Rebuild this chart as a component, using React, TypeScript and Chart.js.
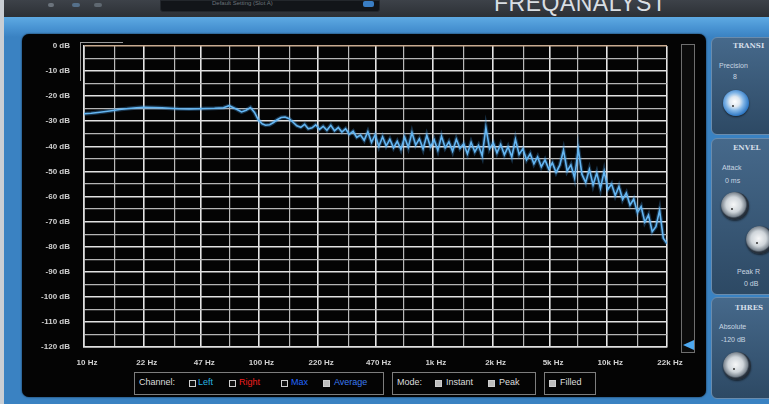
import React, { useEffect, useRef } from "react";
import { Chart, registerables } from "chart.js";
Chart.register(...registerables);

// ---- data ----
const freqHz = [
  10, 11, 12, 13, 14, 15, 16, 18, 20, 22, 25, 28, 31, 35, 40, 45, 50, 56, 63, 68,
  75, 80, 85, 90, 95, 100, 105, 110, 116, 122, 128, 135, 142, 150, 158, 166, 175, 184, 193, 203,
  213, 224, 235, 247, 260, 273, 287, 301, 316, 332, 349, 366, 385, 404, 424, 445, 467, 490, 515, 540,
  567, 595, 625, 656, 689, 723, 759, 797, 837, 879, 923, 969, 1017, 1068, 1121, 1177, 1236, 1298, 1363, 1431,
  1503, 1578, 1657, 1740, 1827, 1918, 2014, 2115, 2220, 2331, 2448, 2570, 2699, 2834, 2975, 3124, 3280, 3444, 3617, 3797,
  3987, 4187, 4396, 4616, 4847, 5089, 5343, 5611, 5891, 6186, 6495, 6820, 7161, 7519, 7895, 8290, 8704, 9140, 9597, 10076,
  10580, 11109, 11665, 12248, 12860, 13503, 14179, 14888, 15632, 16414, 17234, 18096, 19001, 19951, 20948, 22000,
];
const levelDb = [
  -27.0, -26.8, -26.5, -26.2, -25.9, -25.6, -25.3, -24.9, -24.6, -24.4, -24.5, -24.6, -24.8, -25.0, -25.1, -25.0, -24.9, -24.8, -24.6, -23.8,
  -25.2, -26.3, -25.6, -24.5, -26.5, -29.5, -31.0, -31.6, -31.4, -30.5, -29.4, -28.5, -28.3, -29.0, -30.4, -31.8, -32.4, -31.2, -33.0, -32.6,
  -31.4, -33.2, -32.0, -33.6, -31.6, -33.8, -32.5, -34.3, -33.0, -35.2, -34.0, -36.4, -35.5, -37.6, -34.2, -38.4, -35.4, -40.0, -36.2, -39.8,
  -37.2, -40.6, -38.0, -41.2, -36.4, -40.4, -34.5, -39.5, -37.0, -41.0, -35.6, -40.2, -37.4, -41.6, -36.0, -40.6, -38.2, -42.0, -37.2, -40.8,
  -39.0, -43.0, -38.4, -42.2, -39.6, -43.8, -32.5, -41.0, -38.6, -42.6, -39.2, -43.4, -40.2, -44.2, -37.2, -43.2, -41.0, -45.4, -43.0, -47.0,
  -44.2, -48.2, -45.4, -49.0, -46.6, -50.4, -47.5, -41.5, -49.8, -47.4, -52.6, -41.0, -51.2, -54.4, -49.2, -55.4, -50.6, -56.8, -50.0, -57.2,
  -55.0, -59.6, -56.0, -61.2, -58.6, -63.4, -61.0, -66.4, -64.0, -70.2, -67.4, -74.0, -72.0, -65.5, -76.6, -78.8,
];
const gridHz = [10, 15, 22, 33, 47, 68, 100, 150, 220, 330, 470, 680, 1000, 1500, 2200, 3300, 4700, 6800, 10000, 15000, 22000];
const labeledHz = [10, 22, 47, 100, 220, 470, 1000, 2200, 4700, 10000, 22000];
const hzLabels = ["10 Hz", "22 Hz", "47 Hz", "100 Hz", "220 Hz", "470 Hz", "1k Hz", "2k Hz", "5k Hz", "10k Hz", "22k Hz"];
const dbMin = -120;
const dbMax = 0;
const dbStep = 5;

const FONT = '"Liberation Sans", Arial, sans-serif';

function Knob({ cx, cy, r, blue }: { cx: number; cy: number; r: number; blue?: boolean }) {
  const bg = blue
    ? "radial-gradient(circle at 45% 45%, #ffffff 0%, #dfe8f0 25%, #7fb4e6 45%, #2f78c4 70%, #143a66 90%, #0b1e36 100%)"
    : "radial-gradient(circle at 45% 45%, #f6f7f8 0%, #cfd5da 35%, #7d8791 55%, #2a3440 62%, #121a24 85%, #2b3b4c 100%)";
  return (
    <div style={{ position: "absolute", left: cx - r, top: cy - r, width: 2 * r, height: 2 * r, borderRadius: "50%", background: bg, boxShadow: "0 1px 2px rgba(0,0,0,0.6)" }}>
      <div style={{ position: "absolute", left: r - 4, top: r + 2, width: 2, height: 2, borderRadius: 1, background: "#333" }} />
    </div>
  );
}

function Txt({ x, y, children, color = "#cdd8e3", size = 8, weight = "normal", family = FONT }: any) {
  return (
    <div style={{ position: "absolute", left: x, top: y, color, fontSize: size, fontWeight: weight, fontFamily: family, lineHeight: `${size + 2}px`, whiteSpace: "nowrap" }}>
      {children}
    </div>
  );
}

function Box({ x, y, filled }: { x: number; y: number; filled: boolean }) {
  return (
    <div style={{ position: "absolute", left: x, top: y, width: 5, height: 5, border: "1px solid #cfcfcf", background: filled ? "#bdbdbd" : "#111" }} />
  );
}

export default function App() {
  const ref = useRef<HTMLCanvasElement | null>(null);
  useEffect(() => {
    if (!ref.current) return;
    const pts = freqHz.map((f, i) => ({ x: f, y: levelDb[i] }));
    const chart = new Chart(ref.current, {
      type: "line",
      data: {
        datasets: [
          { data: pts, borderColor: "rgba(70,160,235,0.3)", borderWidth: 4, pointRadius: 0, tension: 0 },
          { data: pts, borderColor: "#72c0f5", borderWidth: 1.6, pointRadius: 0, tension: 0 },
        ],
      },
      options: {
        animation: false,
        responsive: false,
        events: [],
        layout: { padding: { top: 46, right: 102, bottom: 30, left: 0 } },
        plugins: { legend: { display: false }, tooltip: { enabled: false } },
        scales: {
          x: {
            type: "logarithmic",
            min: 10,
            max: 22000,
            afterBuildTicks: (s: any) => {
              s.ticks = gridHz.map((v) => ({ value: v }));
            },
            afterFit: (s: any) => {
              s.height = 27;
            },
            grid: {
              drawTicks: false,
              color: (ctx: any) => (labeledHz.includes(ctx.tick?.value) ? "#e6e6e6" : "#b9b9b9"),
              lineWidth: (ctx: any) => (labeledHz.includes(ctx.tick?.value) ? 1.6 : 1.2),
            },
            border: { display: true, color: "#e0e0e0", width: 1.5 },
            ticks: {
              autoSkip: false,
              maxRotation: 0,
              minRotation: 0,
              padding: 11,
              labelOffset: 3,
              color: "#d2d2d2",
              font: { family: FONT, size: 8, weight: "bold" },
              callback: (v: any) => {
                const i = labeledHz.indexOf(Number(v));
                return i >= 0 ? hzLabels[i] : "";
              },
            },
          },
          y: {
            min: dbMin,
            max: dbMax,
            afterFit: (s: any) => {
              s.width = 84;
            },
            grid: {
              drawTicks: false,
              color: (ctx: any) => {
                const v = ctx.tick?.value;
                if (v === 0) return "#c9ab90";
                return v % 10 === 0 ? "#e2e2e2" : "#b5b5b5";
              },
              lineWidth: (ctx: any) => (ctx.tick?.value % 10 === 0 ? 1.6 : 1.2),
            },
            border: { display: true, color: "#e0e0e0", width: 1.5 },
            ticks: {
              stepSize: dbStep,
              autoSkip: false,
              padding: 14,
              color: "#d2d2d2",
              font: { family: FONT, size: 8, weight: "bold" },
              callback: (v: any) => (Number(v) % 10 === 0 ? `${Number(v) === 0 ? 0 : v} dB` : ""),
            },
          },
        },
      } as any,
    });
    return () => chart.destroy();
  }, []);

  return (
    <div style={{ position: "fixed", left: 0, top: 0, width: 769, height: 404, overflow: "hidden", background: "#3a82c2", fontFamily: FONT }}>
      {/* left light edge */}
      <div style={{ position: "absolute", left: 0, top: 0, width: 4, height: 404, background: "#c9ced4" }} />
      {/* top strip */}
      <div style={{ position: "absolute", left: 4, top: 0, width: 765, height: 17, background: "linear-gradient(#3d4249, #2c3035)" }} />
      <div style={{ position: "absolute", left: 48, top: 3, width: 6, height: 4, background: "#6b737c", borderRadius: 2 }} />
      <div style={{ position: "absolute", left: 72, top: 3, width: 8, height: 4, background: "#55708a", borderRadius: 2 }} />
      <div style={{ position: "absolute", left: 94, top: 3, width: 8, height: 4, background: "#5f6871", borderRadius: 2 }} />
      <div style={{ position: "absolute", left: 160, top: 0, width: 218, height: 10, background: "#121519", borderRadius: "0 0 3px 3px", border: "1px solid #23272c" }} />
      <Txt x={212} y={-1} color="#6d737a" size={6}>Default Setting (Slot A)</Txt>
      <div style={{ position: "absolute", left: 363, top: 1, width: 11, height: 6, background: "#3a7ec4", borderRadius: 2 }} />
      <div style={{ position: "absolute", left: 494, top: -9, color: "#d9dee3", fontSize: 23, lineHeight: "24px", letterSpacing: 0.5, fontFamily: FONT }}>FREQANALYST</div>
      {/* blue band */}
      <div style={{ position: "absolute", left: 4, top: 17, width: 765, height: 20, background: "linear-gradient(#5eaae3, #4a95d4 50%, #3a82c2)" }} />
      {/* black panel */}
      <div style={{ position: "absolute", left: 22, top: 34, width: 684, height: 363, background: "#040404", borderRadius: 7, boxShadow: "0 0 2px rgba(0,0,0,0.8)" }} />
      {/* scroll indicator */}
      <div style={{ position: "absolute", left: 80, top: 42, width: 42, height: 38, borderLeft: "1px solid #9a9a9a", borderTop: "1px solid #9a9a9a" }} />
      {/* meter */}
      <div style={{ position: "absolute", left: 681, top: 44, width: 12, height: 307, border: "1px solid #6e6e6e", background: "#0b0b0b" }} />
      <div style={{ position: "absolute", left: 683, top: 340, width: 0, height: 0, borderTop: "5px solid transparent", borderBottom: "5px solid transparent", borderRight: "11px solid #4ea9f0" }} />
      {/* right panels */}
      {[
        [37, 96],
        [138, 155],
        [297, 100],
      ].map(([t, h], i) => (
        <div key={i} style={{ position: "absolute", left: 711, top: t, width: 80, height: h, borderRadius: 6, border: "1px solid #6a8cad", background: "linear-gradient(#46698b, #2d4964)" }} />
      ))}
      <Txt x={733} y={41} size={7} weight="bold" color="#d5dee8" family='"DejaVu Serif", serif'>TRANSI</Txt>
      <Txt x={719} y={61} size={7} color="#c9d6e2">Precision</Txt>
      <Txt x={733} y={72} size={7} color="#c9d6e2">8</Txt>
      <Knob cx={736} cy={103} r={13} blue />
      <Txt x={733} y={143} size={7} weight="bold" color="#d5dee8" family='"DejaVu Serif", serif'>ENVEL</Txt>
      <Txt x={722} y={163} size={7} color="#c9d6e2">Attack</Txt>
      <Txt x={725} y={176} size={7} color="#c9d6e2">0 ms</Txt>
      <Knob cx={735} cy={206} r={14} />
      <Knob cx={760} cy={240} r={14} />
      <Txt x={737} y={267} size={7} color="#c9d6e2">Peak R</Txt>
      <Txt x={744} y={279} size={7} color="#c9d6e2">0 dB</Txt>
      <Txt x={735} y={303} size={7} weight="bold" color="#d5dee8" family='"DejaVu Serif", serif'>THRES</Txt>
      <Txt x={719} y={322} size={7} color="#c9d6e2">Absolute</Txt>
      <Txt x={721} y={335} size={7} color="#c9d6e2">-120 dB</Txt>
      <Knob cx={737} cy={366} r={14} />
      {/* legend boxes */}
      <div style={{ position: "absolute", left: 134, top: 372, width: 248, height: 21, border: "1px solid #7d7d7d" }} />
      <div style={{ position: "absolute", left: 392, top: 372, width: 142, height: 21, border: "1px solid #7d7d7d" }} />
      <div style={{ position: "absolute", left: 544, top: 372, width: 50, height: 21, border: "1px solid #7d7d7d" }} />
      <Txt x={139} y={377} size={9} color="#dcdcdc">Channel:</Txt>
      <Box x={189} y={380} filled={false} />
      <Txt x={198} y={377} size={9} color="#27b3e0">Left</Txt>
      <Box x={229} y={380} filled={false} />
      <Txt x={239} y={377} size={9} color="#f01e1e">Right</Txt>
      <Box x={281} y={380} filled={false} />
      <Txt x={291} y={377} size={9} color="#2266ff">Max</Txt>
      <Box x={323} y={380} filled={true} />
      <Txt x={334} y={377} size={9} color="#3a7af0">Average</Txt>
      <Txt x={397} y={377} size={9} color="#dcdcdc">Mode:</Txt>
      <Box x={435} y={380} filled={true} />
      <Txt x={446} y={377} size={9} color="#dcdcdc">Instant</Txt>
      <Box x={488} y={380} filled={true} />
      <Txt x={499} y={377} size={9} color="#dcdcdc">Peak</Txt>
      <Box x={549} y={380} filled={true} />
      <Txt x={560} y={377} size={9} color="#dcdcdc">Filled</Txt>
      <canvas ref={ref} width={769} height={404} style={{ position: "absolute", left: 0, top: 0, width: 769, height: 404 }} />
    </div>
  );
}
